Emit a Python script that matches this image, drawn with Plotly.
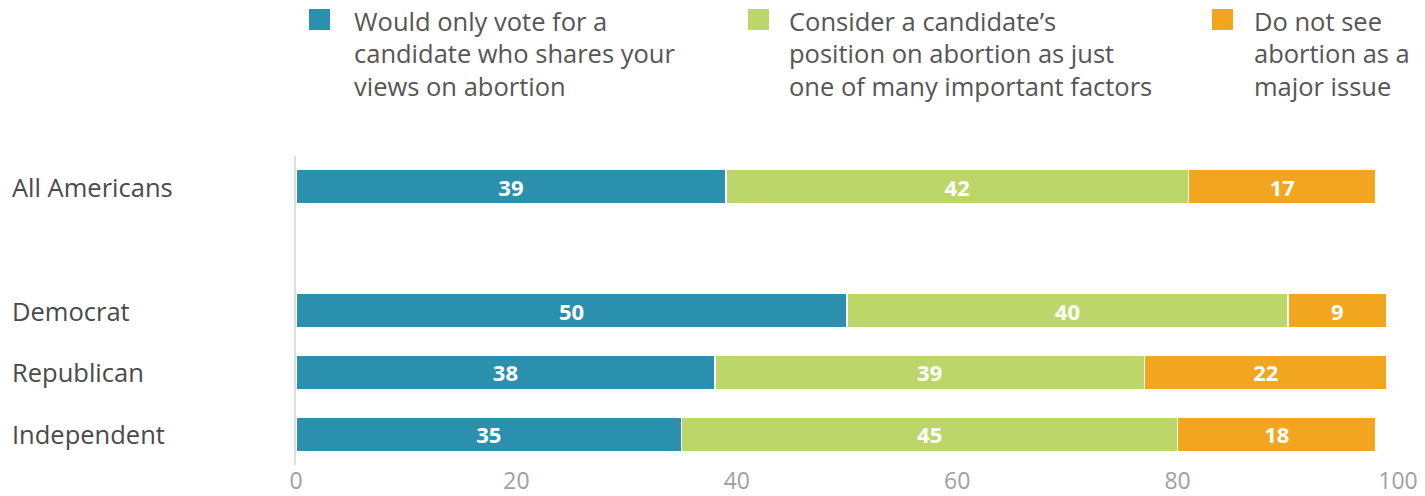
import plotly.graph_objects as go

# Data
categories = ["All Americans", " ", "Democrat", "Republican", "Independent"]
series_names = [
    ["Would only vote for a", "candidate who shares your", "views on abortion"],
    ["Consider a candidate\u2019s", "position on abortion as just", "one of many important factors"],
    ["Do not see", "abortion as a", "major issue"],
]
only_shares = [39, None, 50, 38, 35]
many_factors = [42, None, 40, 39, 45]
not_major = [17, None, 9, 22, 18]
x_ticks = [0, 20, 40, 60, 80, 100]

COLORS = ["#2b8fae", "#bcd66a", "#f2a51f"]
FONT = "Open Sans"

# page has an 8px body margin; positions below are in page pixels
OFF = 8
W, H = 1425, 496
L, T = 296 - OFF, 156 - OFF
R = W - (1398 - OFF)
B = H - (465 - OFF)
PW, PH = W - L - R, H - T - B


def px_x(px):
    return (px - OFF - L) / PW


def px_y(py):
    return (H - B - (py - OFF)) / PH


fig = go.Figure()
for name, vals, color in zip(series_names, [only_shares, many_factors, not_major], COLORS):
    fig.add_trace(go.Bar(
        y=categories,
        x=vals,
        orientation="h",
        name=" ".join(name),
        marker={"color": color, "line": {"color": "white", "width": 1.5}},
        width=0.56,
        text=vals,
        texttemplate="<b>%{x}</b>",
        textposition="inside",
        insidetextanchor="middle",
        textangle=0,
        constraintext="none",
        textfont={"family": FONT, "size": 22, "color": "white"},
        showlegend=False,
    ))

# category labels, left aligned
for cat in categories:
    if cat.strip():
        fig.add_annotation(
            x=0, xref="paper", y=cat, yref="y", xshift=-(296 - 10),
            text=cat, showarrow=False, xanchor="left",
            font={"family": FONT, "size": 25.5, "color": "#4a4a4a"},
        )

# custom legend
legend_pos = [(309, 352), (748, 787), (1212, 1252)]
line_y = [21, 53, 86]
for (sq_x, txt_x), lines, color in zip(legend_pos, series_names, COLORS):
    fig.add_shape(
        type="rect", xref="paper", yref="paper",
        x0=px_x(sq_x), x1=px_x(sq_x + 21), y0=px_y(30), y1=px_y(9),
        fillcolor=color, line={"width": 0},
    )
    for ln, ly in zip(lines, line_y):
        fig.add_annotation(
            x=px_x(txt_x), xref="paper", y=px_y(ly), yref="paper",
            text=ln, showarrow=False, xanchor="left", yanchor="middle",
            font={"family": FONT, "size": 25.5, "color": "#555555"},
        )

fig.update_layout(
    barmode="stack",
    width=W, height=H,
    paper_bgcolor="white", plot_bgcolor="white",
    margin={"l": L, "r": R, "t": T, "b": B},
    xaxis={
        "range": [0, 100], "tickvals": x_ticks, "showgrid": False, "zeroline": False,
        "tickfont": {"family": FONT, "size": 23, "color": "#a0a0a0"},
        "ticks": "", "showline": False, "automargin": False,
    },
    yaxis={
        "categoryorder": "array", "categoryarray": categories, "autorange": "reversed",
        "showticklabels": False, "showgrid": False, "zeroline": False,
        "showline": True, "linecolor": "#dddddd", "linewidth": 2,
    },
)

fig.write_html("out.html")
